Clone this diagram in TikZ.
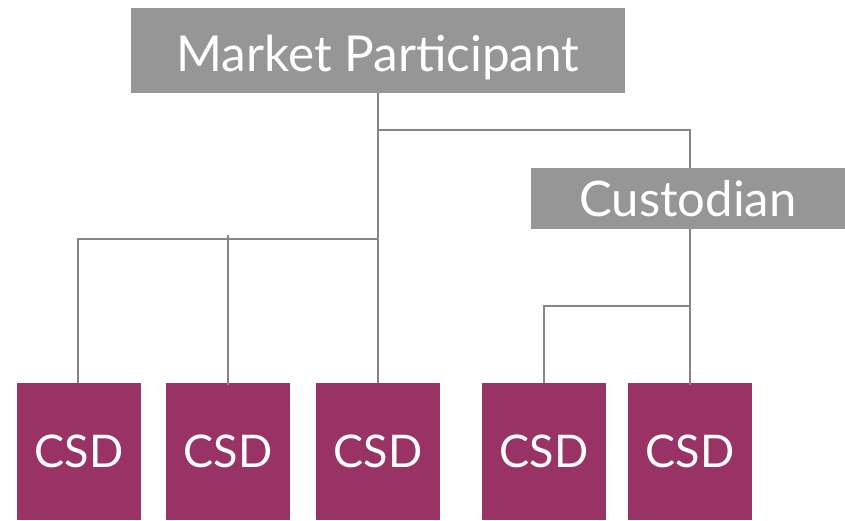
\documentclass[tikz,border=0pt]{standalone}
\usepackage{fontspec}
\setmainfont{Lato}
\definecolor{boxgray}{HTML}{969696}
\definecolor{csdred}{HTML}{993366}
\definecolor{linegray}{HTML}{858585}
\begin{document}
\begin{tikzpicture}[x=1pt,y=-1pt,
  graybox/.style={fill=boxgray,text=white,inner sep=0pt,anchor=center},
  csdbox/.style={fill=csdred,text=white,inner sep=0pt,minimum width=124pt,minimum height=137pt,font=\fontsize{45}{50}\selectfont},
  conn/.style={draw=linegray,line width=2pt}]
\useasboundingbox (0,0) rectangle (845,520);
\node[graybox,minimum width=494pt,minimum height=85pt,font=\fontsize{49.5}{56}\selectfont] (mp) at (378,50.5) {\raisebox{-20.5pt}[0pt][0pt]{Market Participant}};
\node[graybox,minimum width=318pt,minimum height=61pt,font=\fontsize{49}{54}\selectfont] (cust) at (690,198.5) {\hspace*{-4pt}Custodian};
\foreach \i/\x in {1/79,2/228,3/378,4/544,5/690}
  \node[csdbox] (csd\i) at (\x,451.5) {CSD};
\coordinate (j1) at (378,130);
\coordinate (j2) at (378,239);
\coordinate (j3) at (228,235);
\coordinate (j4) at (690,306);
\draw[conn] (mp.south) -- (csd3.north);
\draw[conn] (j1) -| (cust.north);
\draw[conn] (j2) -| ([xshift=-1pt]csd1.north);
\draw[conn] (j3) -- ([yshift=-2pt]csd2.north);
\draw[conn] (cust.south) -- ([yshift=-2pt]csd5.north);
\draw[conn] (j4) -| (csd4.north);
\end{tikzpicture}
\end{document}
